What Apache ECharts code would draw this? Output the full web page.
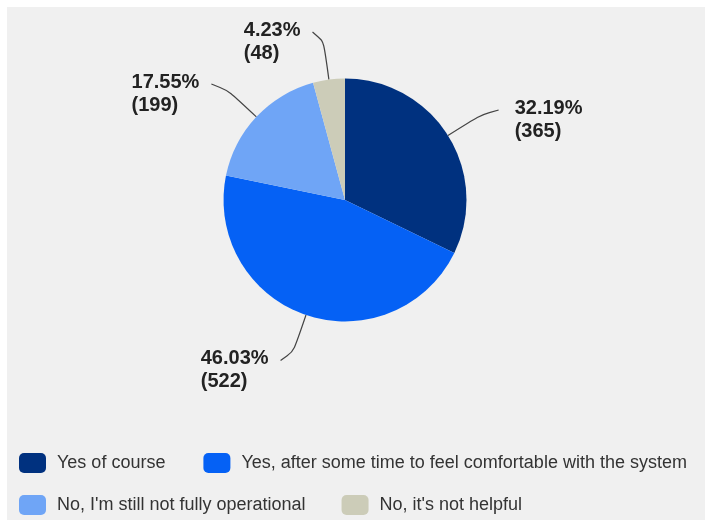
<!DOCTYPE html>
<html>
<head>
<meta charset="utf-8">
<script src="https://cdn.jsdelivr.net/npm/echarts@6/dist/echarts.min.js"></script>
<style>
  html, body { margin: 0; padding: 0; background: #ffffff; }
  #chart { width: 705px; height: 520px; }
</style>
</head>
<body>
<div id="chart"></div>
<script>
// Survey answers and their response counts
const categories = [
  'Yes of course',
  'Yes, after some time to feel comfortable with the system',
  "No, I'm still not fully operational",
  "No, it's not helpful"
];
const counts = [365, 522, 199, 48];
const colors = ['#00317f', '#0561f5', '#6fa5f6', '#ccccb8'];

const FONT = '"Liberation Sans", Arial, sans-serif';

const chart = echarts.init(document.getElementById('chart'), null, { renderer: 'canvas' });

const legendText = { fontFamily: FONT, fontSize: 18, color: '#333333', lineHeight: 20, padding: [0, 0, 0, 6] };

chart.setOption({
  animation: false,
  backgroundColor: '#ffffff',
  color: colors,
  graphic: [{
    type: 'rect',
    left: 7, top: 7,
    shape: { width: 698, height: 513 },
    style: { fill: '#f0f0f0' },
    silent: true,
    z: -10
  }],
  legend: [
    {
      data: categories.slice(0, 2),
      orient: 'horizontal',
      left: 19, top: 453,
      padding: 0,
      itemWidth: 27, itemHeight: 20, itemGap: 38,
      icon: 'roundRect',
      selectedMode: false,
      textStyle: legendText
    },
    {
      data: categories.slice(2, 4),
      orient: 'horizontal',
      left: 19, top: 495,
      padding: 0,
      itemWidth: 27, itemHeight: 20, itemGap: 36,
      icon: 'roundRect',
      selectedMode: false,
      textStyle: legendText
    }
  ],
  series: [{
    type: 'pie',
    center: [345, 200],
    radius: 121.5,
    startAngle: 90,
    clockwise: true,
    avoidLabelOverlap: false,
    percentPrecision: 2,
    itemStyle: { borderWidth: 0 },
    emphasis: { disabled: true },
    label: {
      show: true,
      position: 'outside',
      formatter: '{d}%\n({c})',
      fontFamily: FONT,
      fontSize: 20,
      fontWeight: 'bold',
      color: '#222222',
      lineHeight: 23
    },
    labelLine: {
      show: true,
      length: 48,
      length2: 10,
      smooth: 1,
      lineStyle: { color: '#444444', width: 1.2 }
    },
    // Left-aligned text block beside the leader line end, first line level with it
    labelLayout: function (params) {
      const pts = params.labelLinePoints;
      if (!pts) { return {}; }
      const end = pts[2];
      const right = end[0] >= pts[1][0];
      const w = params.labelRect ? params.labelRect.width : 0;
      return {
        x: right ? end[0] + 16 : end[0] - 12 - w,
        y: end[1] - 2 + 11.5,
        align: 'left',
        verticalAlign: 'middle',
        labelLinePoints: pts
      };
    },
    data: categories.map(function (name, i) {
      return { name: name, value: counts[i] };
    })
  }]
});
</script>
</body>
</html>
